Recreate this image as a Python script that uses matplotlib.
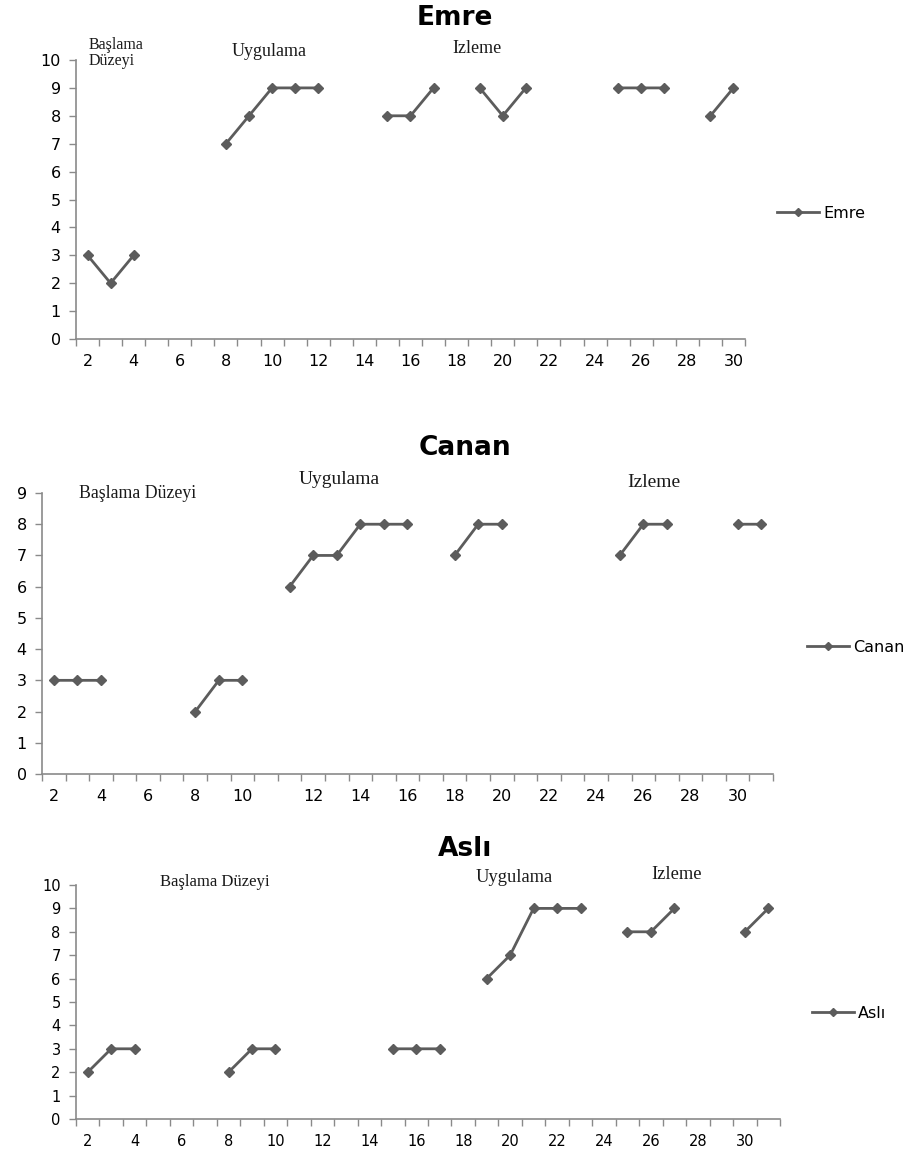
import numpy as np
import matplotlib
matplotlib.use('Agg')
import matplotlib.pyplot as plt

# session labels (category axis) and scores for each student; None = no session
emre_sessions = [str(s) for s in range(2, 31)]
emre_scores = [3, 2, 3, None, None, None, 7, 8, 9, 9, 9, None, None, 8, 8, 9,
               None, 9, 8, 9, None, None, None, 9, 9, 9, None, 8, 9]

canan_sessions = [str(s) for s in range(2, 12)] + [''] + [str(s) for s in range(12, 32)]
canan_scores = [3, 3, 3, None, None, None, 2, 3, 3, None, 6, 7, 7, 8, 8, 8,
                None, 7, 8, 8, None, None, None, None, 7, 8, 8, None, None, 8, 8]

asli_sessions = [str(s) for s in range(2, 32)]
asli_scores = [2, 3, 3, None, None, None, 2, 3, 3, None, None, None, None, 3, 3, 3,
               None, 6, 7, 9, 9, 9, None, 8, 8, 9, None, None, 8, 9]

# phase labels: (text, category index, y value, font size, alignment)
emre_phases = [('Başlama\nDüzeyi', 0.05, 10.25, 11.5, 'left'),
               ('Uygulama', 7.89, 10.29, 13, 'center'),
               ('Izleme', 16.88, 10.43, 13, 'center')]
canan_phases = [('Başlama Düzeyi', 3.55, 9.0, 12.8, 'center'),
                ('Uygulama', 12.1, 9.42, 14, 'center'),
                ('Izleme', 25.45, 9.35, 14, 'center')]
asli_phases = [('Başlama Düzeyi', 5.43, 10.13, 12, 'center'),
               ('Uygulama', 18.19, 10.34, 13.3, 'center'),
               ('Izleme', 25.1, 10.43, 13.3, 'center')]

W, H = 912, 1151
LINE = '#5c5c5c'
AXC = '#8a8a8a'


def panel(fig, rect, name, sessions, scores, ymax, phases, title_xy, legend_xy, tsize):
    ax = fig.add_axes(rect)
    n = len(sessions)
    x = np.arange(n)
    y = np.array([np.nan if v is None else v for v in scores], dtype=float)
    ax.plot(x, y, color=LINE, lw=2.0, marker='D', ms=5, mec=LINE, mfc=LINE,
            label=name, clip_on=False, zorder=3)

    ax.set_xlim(-0.5, n - 0.5)
    ax.set_ylim(0, ymax)
    ax.set_yticks(range(0, ymax + 1))
    ax.tick_params(axis='y', length=5, width=1, color=AXC, labelsize=tsize, pad=6)

    # labels at category centres, tick marks on category boundaries
    labels = [s if s and int(s) % 2 == 0 else '' for s in sessions]
    ax.set_xticks(x)
    ax.set_xticklabels(labels)
    ax.tick_params(axis='x', which='major', length=0, labelsize=tsize, pad=11)
    ax.set_xticks(np.arange(n + 1) - 0.5, minor=True)
    ax.tick_params(axis='x', which='minor', length=5, width=1, color=AXC)

    for s in ['top', 'right']:
        ax.spines[s].set_visible(False)
    for s in ['left', 'bottom']:
        ax.spines[s].set_color(AXC)
        ax.spines[s].set_linewidth(1.2)

    for txt, px, py, fs, ha in phases:
        ax.text(px, py, txt, ha=ha, va='center', fontsize=fs,
                family='Liberation Serif', color='#1a1a1a', linespacing=1.0,
                clip_on=False)

    fig.text(title_xy[0] / W, 1 - title_xy[1] / H, name, ha='center', va='center',
             fontsize=19, fontweight='bold', color='black')

    ax.legend(loc='center left', bbox_to_anchor=(legend_xy[0] / W, 1 - legend_xy[1] / H),
              bbox_transform=fig.transFigure, frameon=False, fontsize=11.5,
              handlelength=2.6, handletextpad=0.3, borderpad=0, borderaxespad=0,
              markerscale=0.8)
    return ax


fig = plt.figure(figsize=(W / 100, H / 100), dpi=100)

panel(fig, [76 / W, 1 - 339 / H, (745 - 76) / W, (339 - 60) / H], 'Emre',
      emre_sessions, emre_scores, 10, emre_phases, (455, 18), (777, 213), 11.5)
panel(fig, [42 / W, 1 - 774 / H, (773 - 42) / W, (774 - 493) / H], 'Canan',
      canan_sessions, canan_scores, 9, canan_phases, (465, 448), (807, 647), 11.5)
panel(fig, [76 / W, 1 - 1119 / H, (780 - 76) / W, (1119 - 885) / H], 'Aslı',
      asli_sessions, asli_scores, 10, asli_phases, (465, 849), (812, 1013), 10.5)

fig.savefig('out.png', dpi=100, facecolor='white')
